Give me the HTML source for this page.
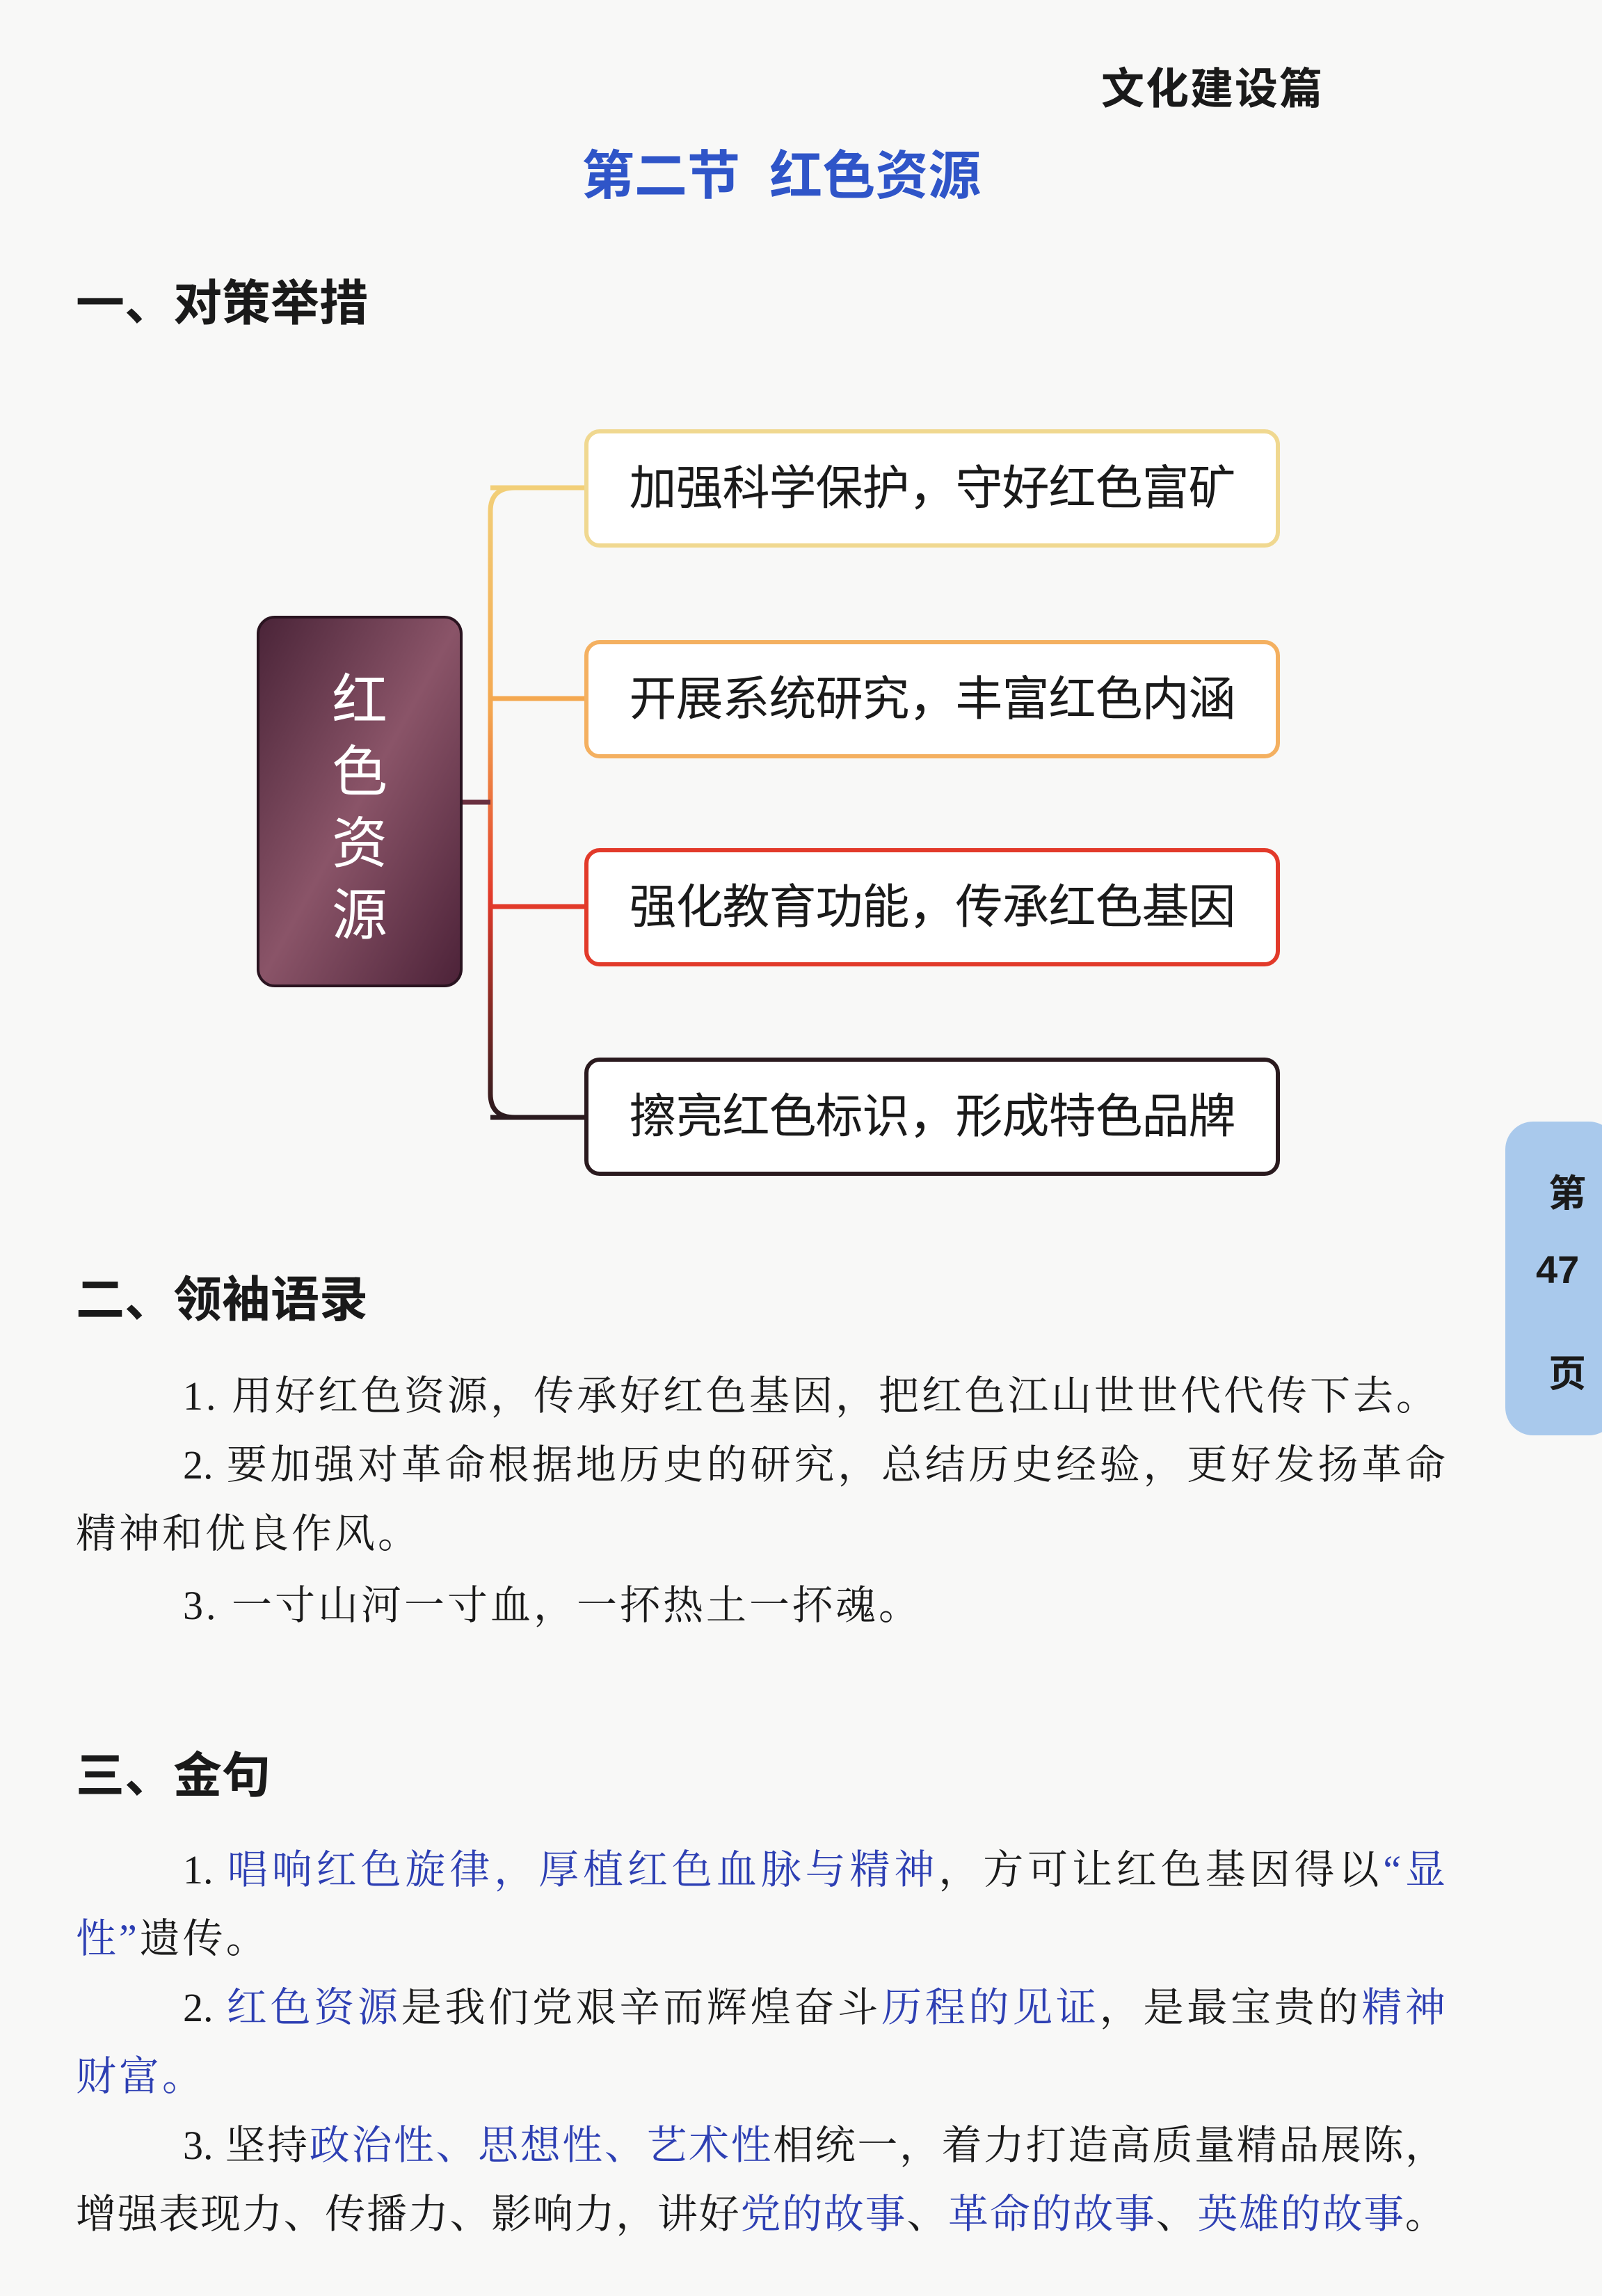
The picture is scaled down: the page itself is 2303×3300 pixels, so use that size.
<!DOCTYPE html>
<html><head><meta charset="utf-8"><style>
body{margin:0;width:2303px;height:3300px;background:#f8f8f7;position:relative;overflow:hidden;font-family:"Liberation Sans","Noto Sans CJK SC",sans-serif;color:#1a1a1a}
.a{position:absolute;white-space:nowrap;line-height:1.2}
.h{font-weight:bold;font-size:70px}
.box{position:absolute;left:840px;width:988px;height:158px;border-radius:22px;background:#fff;font-size:68px;line-height:158px;text-align:center;letter-spacing:-1px}
.ln{position:absolute;font-size:58px;line-height:1.2;left:109px;width:1969px;white-space:nowrap;font-family:"Liberation Serif","Noto Serif CJK SC",serif;letter-spacing:4px}
.j{text-align:justify;text-align-last:justify;letter-spacing:0}
.b{color:#2d3fb3}
</style></head><body>
<div class="a" style="left:1583px;top:92px;font-size:62px;font-weight:bold;letter-spacing:2px">文化建设篇</div>
<div class="a" style="left:836px;top:208px;font-size:76px;font-weight:bold;color:#2f55c8">第二节&nbsp;&nbsp;红色资源</div>
<div class="a h" style="left:109px;top:394px">一、对策举措</div>

<svg style="position:absolute;left:0;top:0" width="2303" height="3300">
<defs><linearGradient id="g" x1="0" y1="0" x2="0" y2="1"><stop offset="0" stop-color="#f2cf78"/><stop offset="0.35" stop-color="#f4a850"/><stop offset="0.65" stop-color="#e23a2a"/><stop offset="1" stop-color="#2a1a1e"/></linearGradient>
<linearGradient id="p" x1="0" y1="0" x2="1" y2="1"><stop offset="0" stop-color="#4a2438"/><stop offset="0.5" stop-color="#8a5468"/><stop offset="1" stop-color="#4c2238"/></linearGradient></defs>
<path d="M740 701 Q705 701 705 735 L705 1572 Q705 1606 740 1606" fill="none" stroke="url(#g)" stroke-width="7"/>
<line x1="663" y1="1153" x2="705" y2="1153" stroke="#6a3040" stroke-width="7"/>
<line x1="705" y1="701" x2="842" y2="701" stroke="#f2cf78" stroke-width="7"/>
<line x1="705" y1="1004" x2="842" y2="1004" stroke="#f4a850" stroke-width="7"/>
<line x1="705" y1="1303" x2="842" y2="1303" stroke="#e23a2a" stroke-width="7"/>
<line x1="705" y1="1606" x2="842" y2="1606" stroke="#2a1a1e" stroke-width="7"/>
<rect x="371" y="887" width="292" height="530" rx="24" fill="url(#p)" stroke="#2a1420" stroke-width="4"/>
</svg>
<div class="a" style="left:477px;top:955px;font-size:80px;color:#fff;line-height:103px;width:80px;text-align:center;white-space:normal">红<br>色<br>资<br>源</div>

<div class="box" style="top:617px;border:6px solid #f0d890">加强科学保护，守好红色富矿</div>
<div class="box" style="top:920px;border:6px solid #f4b060">开展系统研究，丰富红色内涵</div>
<div class="box" style="top:1219px;border:6px solid #e23a2a">强化教育功能，传承红色基因</div>
<div class="box" style="top:1520px;border:6px solid #2a1a1e">擦亮红色标识，形成特色品牌</div>

<div class="a h" style="left:109px;top:1826px">二、领袖语录</div>
<div class="ln" style="top:1972px;left:263px">1. 用好红色资源，传承好红色基因，把红色江山世世代代传下去。</div>
<div class="ln j" style="top:2071px;left:263px;width:1815px">2. 要加强对革命根据地历史的研究，总结历史经验，更好发扬革命</div>
<div class="ln" style="top:2170px">精神和优良作风。</div>
<div class="ln" style="top:2273px;left:263px">3. 一寸山河一寸血，一抔热土一抔魂。</div>

<div class="a h" style="left:109px;top:2510px">三、金句</div>
<div class="ln j" style="top:2653px;left:263px;width:1815px">1. <span class="b">唱响红色旋律，厚植红色血脉与精神</span>，方可让红色基因得以<span class="b">“显</span></div>
<div class="ln" style="top:2752px"><span class="b">性”</span>遗传。</div>
<div class="ln j" style="top:2851px;left:263px;width:1815px">2. <span class="b">红色资源</span>是我们党艰辛而辉煌奋斗<span class="b">历程的见证</span>，是最宝贵的<span class="b">精神</span></div>
<div class="ln" style="top:2950px"><span class="b">财富。</span></div>
<div class="ln j" style="top:3049px;left:263px;width:1815px">3. 坚持<span class="b">政治性、思想性、艺术性</span>相统一，着力打造高质量精品展陈，</div>
<div class="ln j" style="top:3148px">增强表现力、传播力、影响力，讲好<span class="b">党的故事</span>、<span class="b">革命的故事</span>、<span class="b">英雄的故事</span>。</div>

<div style="position:absolute;left:2164px;top:1612px;width:160px;height:451px;border-radius:40px;background:#a9c9ec"></div>
<div class="a" style="left:2226px;top:1684px;font-size:54px;font-weight:bold">第</div>
<div class="a" style="left:2208px;top:1791px;font-size:56px;font-weight:bold">47</div>
<div class="a" style="left:2226px;top:1943px;font-size:54px;font-weight:bold">页</div>
</body></html>
